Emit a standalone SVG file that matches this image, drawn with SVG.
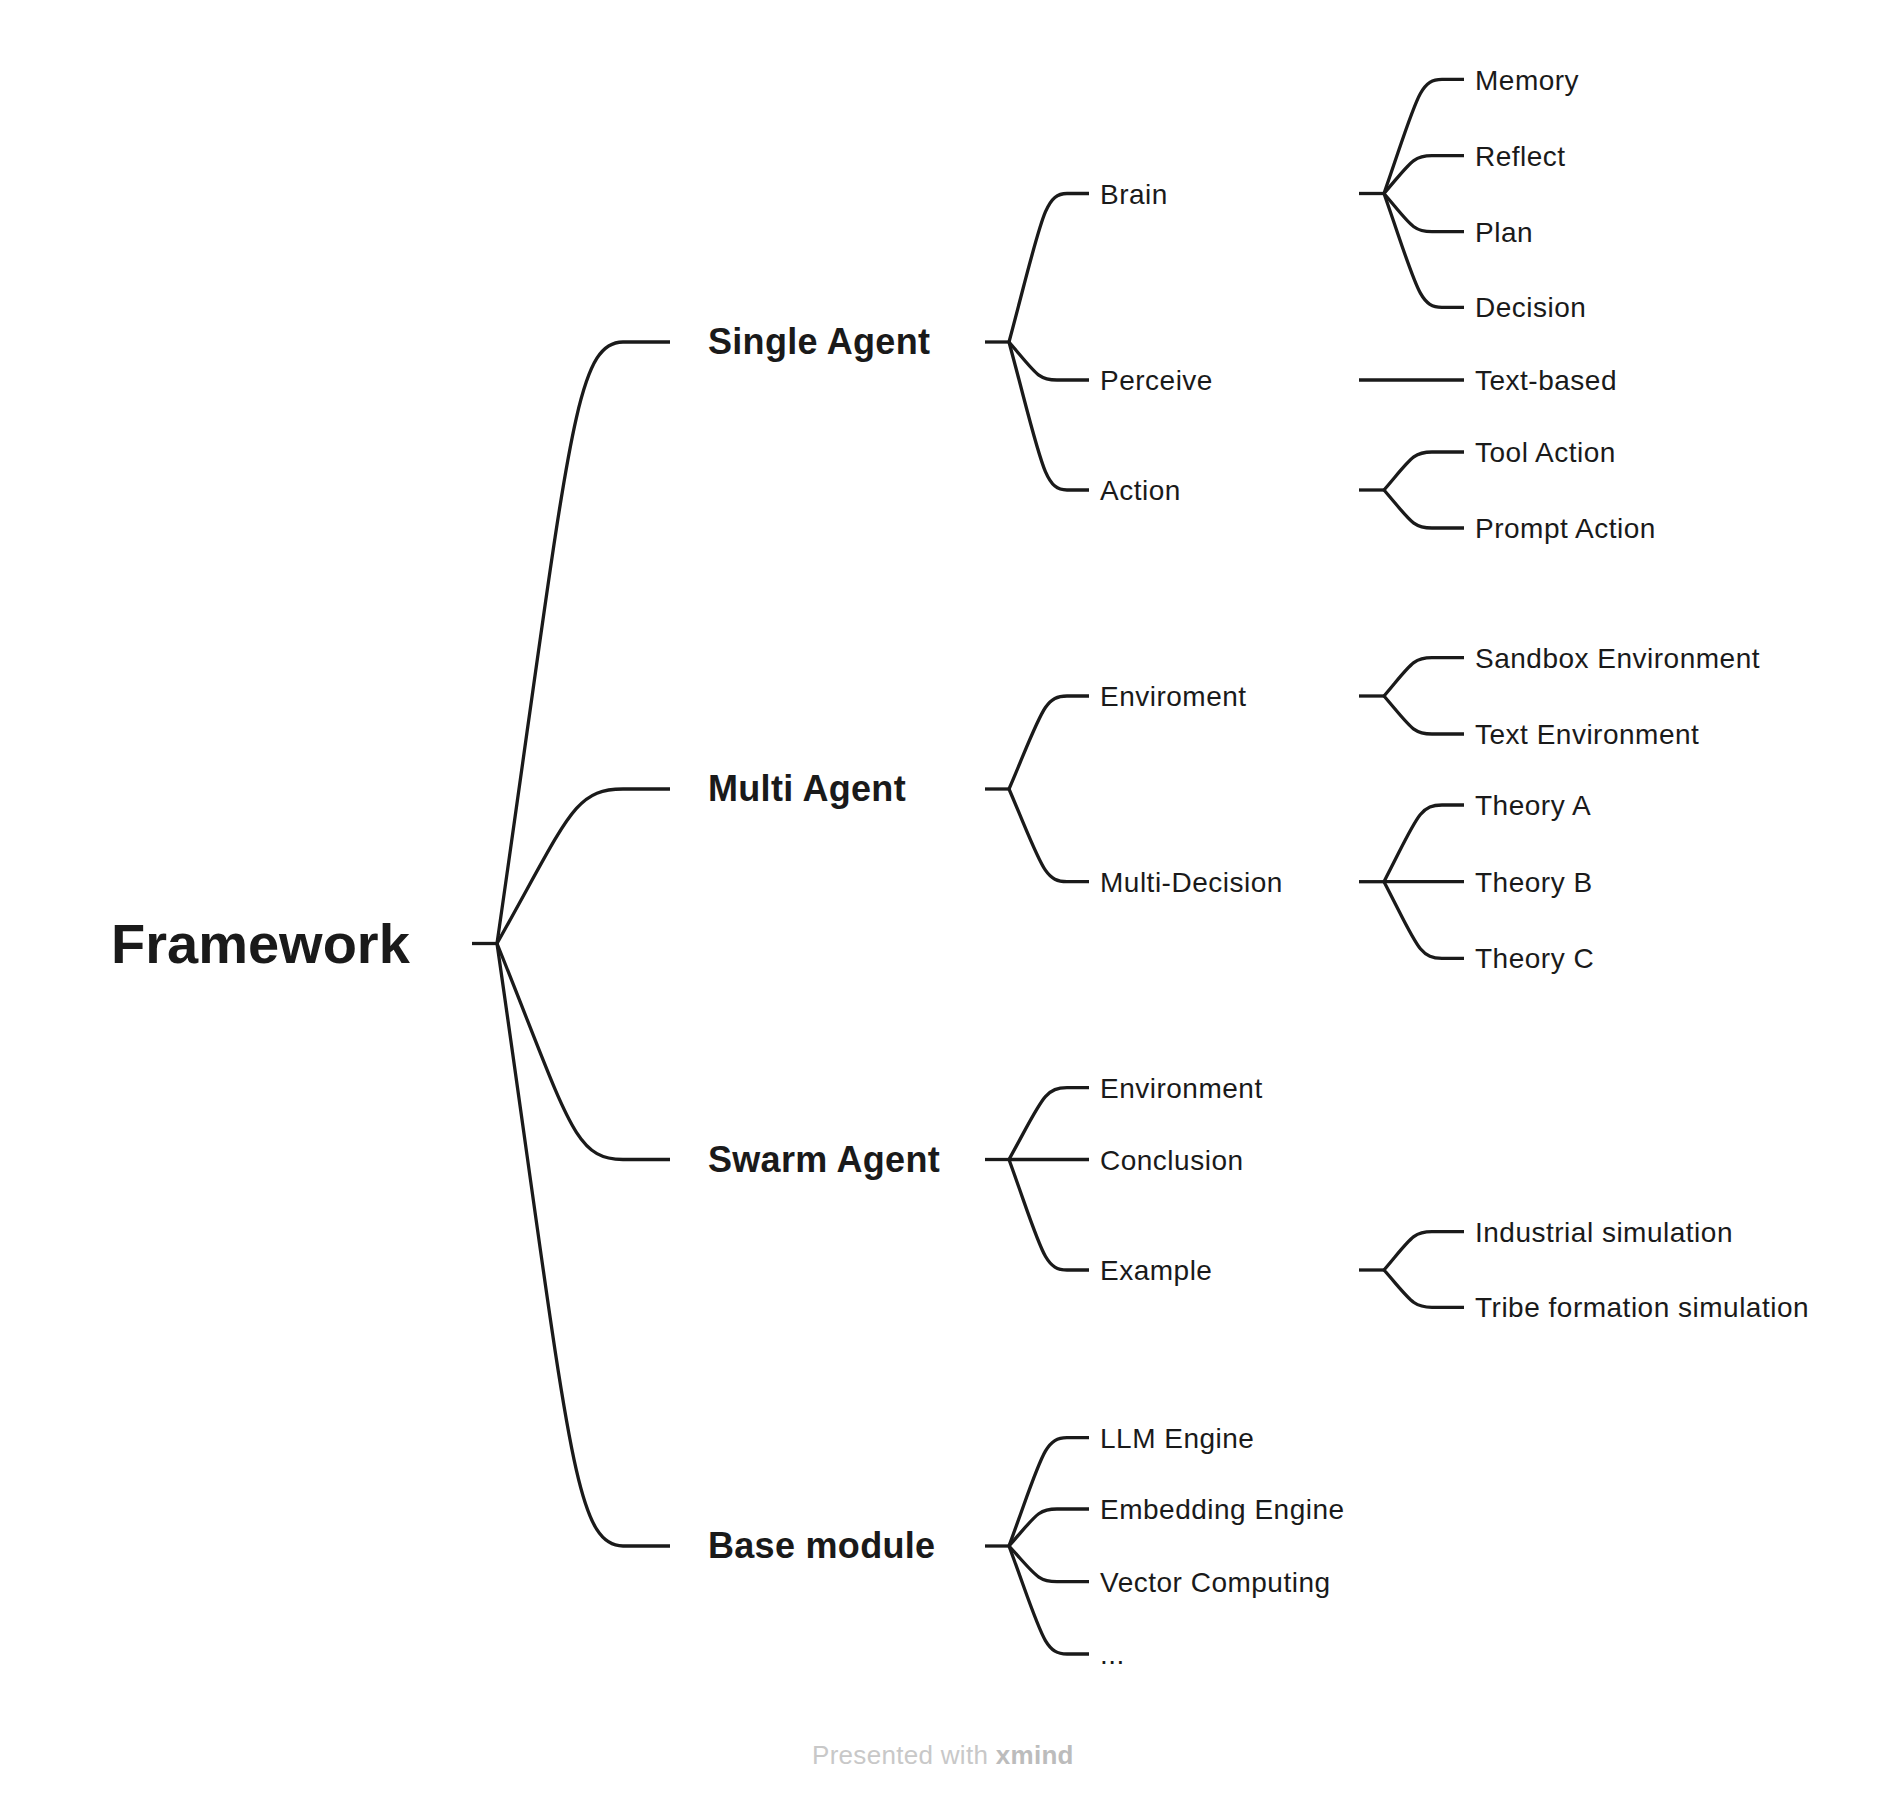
<svg xmlns="http://www.w3.org/2000/svg" width="1882" height="1804" viewBox="0 0 1882 1804">
<style>
.c{fill:none;stroke:#1a1a1a;stroke-width:3.3}
.t{font-family:"Liberation Sans",Arial,sans-serif;fill:#1a1a1a}
.root{font-size:56px;font-weight:700}
.l1{font-size:36px;font-weight:700;letter-spacing:0.3px}
.l2{font-size:28px;letter-spacing:0.5px}
.l3{font-size:28px;letter-spacing:0.5px}
.foot{font-family:"Liberation Sans",Arial,sans-serif;font-size:26px;fill:#c8c8c8;letter-spacing:0.3px}
</style>
<rect width="1882" height="1804" fill="#ffffff"/>
<g id="connectors">
<path class="c" d="M472 943.5H497"/>
<path class="c" d="M497 943.5C569 444.5 574 342 623 342H670"/>
<path class="c" d="M497 943.5C569 815.5 574 789 623 789H670"/>
<path class="c" d="M497 943.5C569 1122.5 574 1159.5 623 1159.5H670"/>
<path class="c" d="M497 943.5C569 1443.5 574 1546 623 1546H670"/>
<path class="c" d="M985 342H1009"/>
<path class="c" d="M985 789H1009"/>
<path class="c" d="M985 1159.5H1009"/>
<path class="c" d="M985 1546H1009"/>
<path class="c" d="M1009 342C1042 218.7 1044 193.5 1067 193.5H1089"/>
<path class="c" d="M1009 342C1036 373.5 1038 380 1057 380H1089"/>
<path class="c" d="M1009 342C1042 464.8 1044 490 1067 490H1089"/>
<path class="c" d="M1009 789C1042 711.8 1044 696 1067 696H1089"/>
<path class="c" d="M1009 789C1042 866 1044 881.7 1067 881.7H1089"/>
<path class="c" d="M1009 1159.5C1042 1099.9 1044 1087.7 1067 1087.7H1089"/>
<path class="c" d="M1009 1159.5H1089"/>
<path class="c" d="M1009 1159.5C1042 1251.2 1044 1270 1067 1270H1089"/>
<path class="c" d="M1009 1546C1042 1456.1 1044 1437.7 1067 1437.7H1089"/>
<path class="c" d="M1009 1546C1036 1515.3 1038 1509 1057 1509H1089"/>
<path class="c" d="M1009 1546C1036 1575.6 1038 1581.7 1057 1581.7H1089"/>
<path class="c" d="M1009 1546C1042 1635.6 1044 1654 1067 1654H1089"/>
<path class="c" d="M1359 193.5H1384"/>
<path class="c" d="M1359 380H1464"/>
<path class="c" d="M1359 490H1384"/>
<path class="c" d="M1359 696H1384"/>
<path class="c" d="M1359 881.7H1384"/>
<path class="c" d="M1359 1270H1384"/>
<path class="c" d="M1384 193.5C1417 98.7 1419 79.3 1442 79.3H1464"/>
<path class="c" d="M1384 193.5C1411 162.1 1413 155.7 1432 155.7H1464"/>
<path class="c" d="M1384 193.5C1411 225.2 1413 231.7 1432 231.7H1464"/>
<path class="c" d="M1384 193.5C1417 288 1419 307.3 1442 307.3H1464"/>
<path class="c" d="M1384 490C1411 458.5 1413 452 1432 452H1464"/>
<path class="c" d="M1384 490C1411 521.5 1413 528 1432 528H1464"/>
<path class="c" d="M1384 696C1411 664.2 1413 657.7 1432 657.7H1464"/>
<path class="c" d="M1384 696C1411 727.5 1413 734 1432 734H1464"/>
<path class="c" d="M1384 881.7C1417 818 1419 805 1442 805H1464"/>
<path class="c" d="M1384 881.7H1464"/>
<path class="c" d="M1384 881.7C1417 945.3 1419 958.3 1442 958.3H1464"/>
<path class="c" d="M1384 1270C1411 1238.2 1413 1231.7 1432 1231.7H1464"/>
<path class="c" d="M1384 1270C1411 1300.8 1413 1307.3 1432 1307.3H1464"/>
</g>
<g id="framework"><text class="t root" x="111" y="963">Framework</text></g>
<g id="single-agent"><text class="t l1" x="708" y="354">Single Agent</text></g>
<g id="multi-agent"><text class="t l1" x="708" y="801">Multi Agent</text></g>
<g id="swarm-agent"><text class="t l1" x="708" y="1172">Swarm Agent</text></g>
<g id="base-module"><text class="t l1" x="708" y="1558">Base module</text></g>
<g id="brain"><text class="t l2" x="1100" y="203.5">Brain</text></g>
<g id="perceive"><text class="t l2" x="1100" y="390">Perceive</text></g>
<g id="action"><text class="t l2" x="1100" y="500">Action</text></g>
<g id="enviroment"><text class="t l2" x="1100" y="706">Enviroment</text></g>
<g id="multi-decision"><text class="t l2" x="1100" y="891.5">Multi-Decision</text></g>
<g id="environment"><text class="t l2" x="1100" y="1097.5">Environment</text></g>
<g id="conclusion"><text class="t l2" x="1100" y="1169.5">Conclusion</text></g>
<g id="example"><text class="t l2" x="1100" y="1280">Example</text></g>
<g id="llm-engine"><text class="t l2" x="1100" y="1447.5">LLM Engine</text></g>
<g id="embedding-engine"><text class="t l2" x="1100" y="1519">Embedding Engine</text></g>
<g id="vector-computing"><text class="t l2" x="1100" y="1591.5">Vector Computing</text></g>
<g id="ellipsis"><text class="t l2" x="1100" y="1663.5">...</text></g>
<g id="memory"><text class="t l3" x="1475" y="89.5">Memory</text></g>
<g id="reflect"><text class="t l3" x="1475" y="165.5">Reflect</text></g>
<g id="plan"><text class="t l3" x="1475" y="241.5">Plan</text></g>
<g id="decision"><text class="t l3" x="1475" y="317">Decision</text></g>
<g id="text-based"><text class="t l3" x="1475" y="390">Text-based</text></g>
<g id="tool-action"><text class="t l3" x="1475" y="462">Tool Action</text></g>
<g id="prompt-action"><text class="t l3" x="1475" y="538">Prompt Action</text></g>
<g id="sandbox-environment"><text class="t l3" x="1475" y="667.5">Sandbox Environment</text></g>
<g id="text-environment"><text class="t l3" x="1475" y="744">Text Environment</text></g>
<g id="theory-a"><text class="t l3" x="1475" y="815">Theory A</text></g>
<g id="theory-b"><text class="t l3" x="1475" y="891.5">Theory B</text></g>
<g id="theory-c"><text class="t l3" x="1475" y="968">Theory C</text></g>
<g id="industrial-simulation"><text class="t l3" x="1475" y="1241.5">Industrial simulation</text></g>
<g id="tribe-formation-simulation"><text class="t l3" x="1475" y="1317">Tribe formation simulation</text></g>
<g id="footer"><text class="foot" x="812" y="1764">Presented with <tspan font-weight="700" fill="#bcbcbc">xmind</tspan></text></g>
</svg>
